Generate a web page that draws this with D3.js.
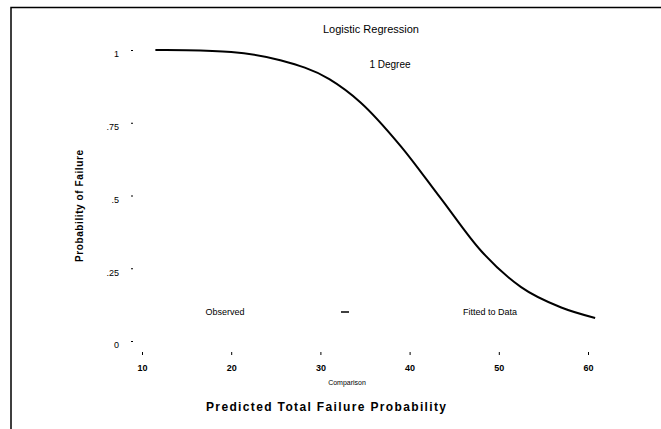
<!DOCTYPE html>
<html>
<head>
<meta charset="utf-8">
<script src="https://cdn.jsdelivr.net/npm/d3@7"></script>
<style>
  body { margin: 0; background: #fff; }
  text { font-family: "Liberation Sans", Arial, sans-serif; fill: #000; }
</style>
</head>
<body>
<svg width="661" height="429"></svg>
<script>
// curve
const xValues = [11.5, 15, 20, 25.5, 31, 34.5, 39, 43.5, 48, 52.5, 57, 60.8];
const yValues = [1.0, 0.999, 0.993, 0.965, 0.9, 0.82, 0.67, 0.49, 0.31, 0.185, 0.115, 0.079];
const xTicks = [10, 20, 30, 40, 50, 60];
const yTicks = [0, 0.25, 0.5, 0.75, 1];
const yTickLabels = ["0", ".25", ".5", ".75", "1"];
const legendLabels = ["Observed", "Fitted to Data"];

const svg = d3.select("svg");

// frame (top + left edge)
svg.append("path")
    .attr("d", "M11,429 V7.5 H661")
    .attr("fill", "none")
    .attr("stroke", "#000")
    .attr("stroke-width", 1.5);

const x = d3.scaleLinear().domain([10, 60]).range([142, 588]);
const y = d3.scaleLinear().domain([0, 1]).range([341, 50]);

// x axis
const gx = svg.append("g")
    .attr("transform", "translate(0,352)")
    .call(d3.axisBottom(x).tickValues(xTicks).tickSize(3).tickPadding(10));
gx.select(".domain").remove();
gx.selectAll("text")
    .style("font-size", "9px")
    .style("font-weight", "bold");

// y axis
const gy = svg.append("g")
    .attr("transform", "translate(133,0)")
    .call(d3.axisLeft(y).tickValues(yTicks).tickSize(2).tickPadding(12)
      .tickFormat((d, i) => yTickLabels[i]));
gy.select(".domain").remove();
gy.selectAll("text")
    .attr("dy", "0.75em")
    .style("font-size", "9px");

// curve
const pts = xValues.map((d, i) => [d, yValues[i]]);
svg.append("path")
    .datum(pts)
    .attr("fill", "none")
    .attr("stroke", "#000")
    .attr("stroke-width", 2)
    .attr("d", d3.line()
      .x(d => x(d[0]))
      .y(d => y(d[1]))
      .curve(d3.curveMonotoneX));

// titles
svg.append("text")
    .attr("x", 371).attr("y", 33)
    .attr("text-anchor", "middle")
    .style("font-size", "11px")
    .text("Logistic Regression");

svg.append("text")
    .attr("x", 390).attr("y", 68)
    .attr("text-anchor", "middle")
    .style("font-size", "10px")
    .text("1 Degree");

// legend row inside plot
svg.append("text")
    .attr("x", 225).attr("y", 315)
    .attr("text-anchor", "middle")
    .style("font-size", "9px")
    .text(legendLabels[0]);

svg.append("line")
    .attr("x1", 341).attr("x2", 349)
    .attr("y1", 312).attr("y2", 312)
    .attr("stroke", "#000")
    .attr("stroke-width", 1.5);

svg.append("text")
    .attr("x", 490).attr("y", 315)
    .attr("text-anchor", "middle")
    .style("font-size", "9px")
    .text(legendLabels[1]);

// axis titles
svg.append("text")
    .attr("x", 347).attr("y", 385)
    .attr("text-anchor", "middle")
    .style("font-size", "7px")
    .text("Comparison");

svg.append("text")
    .attr("x", 326).attr("y", 411)
    .attr("text-anchor", "middle")
    .attr("textLength", 240)
    .style("font-size", "12px")
    .style("font-weight", "bold")
    .text("Predicted Total Failure Probability");

svg.append("text")
    .attr("transform", "translate(83,206) rotate(-90)")
    .attr("text-anchor", "middle")
    .attr("textLength", 112)
    .style("font-size", "10px")
    .style("font-weight", "bold")
    .text("Probability of Failure");
</script>
</body>
</html>
